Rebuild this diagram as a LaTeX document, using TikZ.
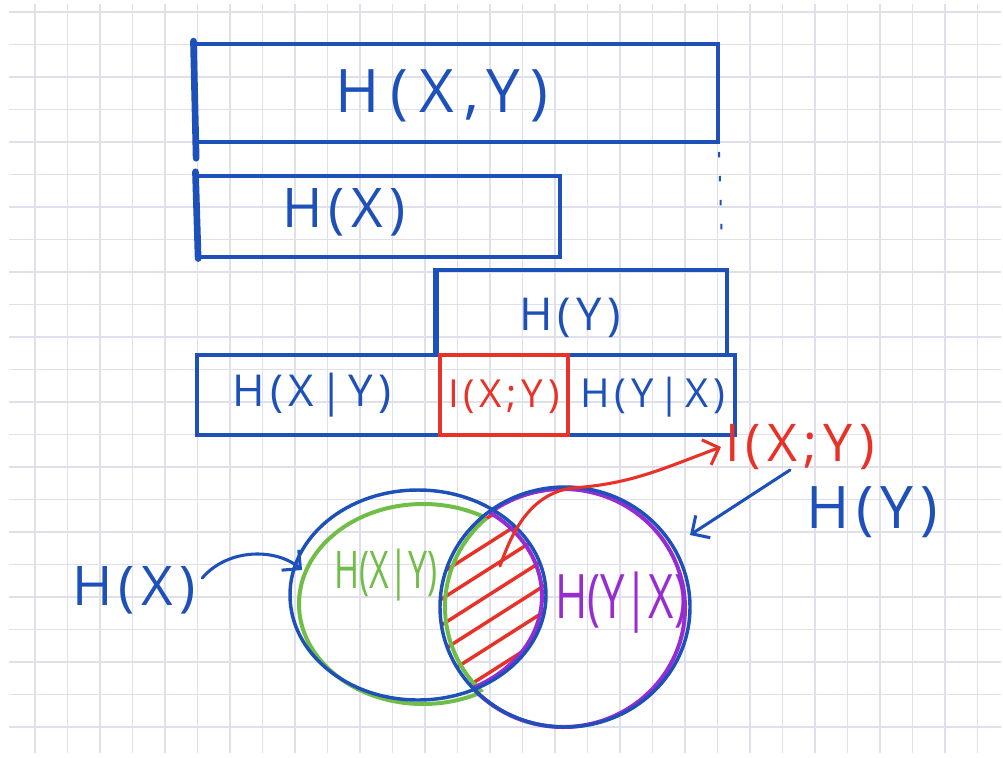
\documentclass[tikz,border=0pt]{standalone}
\usepackage{fontspec}
\setmainfont{Open Sans}
\newfontfamily\handls[LetterSpace=12]{Open Sans}
\newfontfamily\handwide[LetterSpace=18]{Open Sans}
\usetikzlibrary{arrows.meta}
\definecolor{hblue}{RGB}{30,80,185}
\definecolor{hred}{RGB}{232,50,40}
\definecolor{hgreen}{RGB}{112,190,72}
\definecolor{hpurple}{RGB}{150,45,210}
\definecolor{gridc}{RGB}{224,224,234}
\tikzset{
  box/.style={draw=hblue, line width=2.3pt, inner sep=0pt},
  redbox/.style={draw=hred, line width=3pt, inner sep=0pt},
  thickedge/.style={draw=hblue, line width=5pt, line cap=round},
  lbl/.style={inner sep=0pt, text=hblue},
  barb/.style={line width=2.3pt, line cap=round, -{Straight Barb[length=10pt,width=20pt,line width=2.3pt]}},
  ring/.style={line width=3pt},
  hatch/.style={draw=hred, line width=2.6pt, line cap=round}
}
\newcommand{\fs}[1]{\handls\fontsize{#1}{#1}\selectfont}
\newcommand{\fsw}[1]{\handwide\fontsize{#1}{#1}\selectfont}
\newcommand{\fsn}[1]{\fontsize{#1}{#1}\selectfont}
\begin{document}
\begin{tikzpicture}[x=0.75pt,y=-0.75pt]
\useasboundingbox (0,0) rectangle (1003,757);
\fill[white] (0,0) rectangle (1003,757);
% grid
\foreach \i in {0,...,29} \draw[gridc, line width=1.3pt] ({35+32.5*\i},4) -- ({35+32.5*\i},753);
\foreach \j in {0,...,22} \draw[gridc, line width=1.3pt] (9,{12+32.5*\j}) -- (1001,{12+32.5*\j});

% ---------- bar diagram ----------
\node[box, minimum width=392.25pt, minimum height=73.5pt] (bxy) at (456.5,93) {};
\draw[thickedge] ([yshift=1pt]bxy.north west) -- ([xshift=2pt,yshift=-11pt]bxy.south west);
\node[lbl, font=\fsw{45}] (txy) at (442,96) {H(X,Y)};

\node[box, minimum width=272.25pt, minimum height=60.75pt] (bx) at (378.5,216.5) {};
\draw[thickedge] ([yshift=2pt]bx.north west) -- ([xshift=2pt]bx.south west);
\node[lbl, font=\fs{41}] (tx) at (344,212) {H(X)};

\draw[hblue, line width=1.5pt, dash pattern=on 4pt off 14pt] (719,152) -- (722,245);

\node[box, minimum width=217.5pt, minimum height=63.75pt] (by) at (582,312.5) {};
\draw[hblue, line width=3.5pt] (by.north west) -- (by.south west);
\node[lbl, font=\fs{34}] (ty) at (570,318) {H(Y)};

\node[box, minimum width=403.5pt, minimum height=60pt] (brow) at (466,395) {};
\node[redbox, minimum width=96pt, minimum height=60pt] (bixy) at (504,395) {};
\node[lbl, font=\fs{33}] (txgy) at (312,395) {H(X|Y)};
\node[lbl, text=hred, font=\fs{29}] (tixy) at (504,397) {I(X;Y)};
\node[lbl, font=\fs{30}] (tygx) at (653,397) {H(Y|X)};

% ---------- Venn diagram ----------
% hatching in the lens
\begin{scope}
  \clip (418,595) ellipse [x radius=128, y radius=105];
  \clip (565,607) ellipse [x radius=125, y radius=120];
  \foreach \k in {0,...,10} \draw[hatch] (440,{522+26*\k}) -- ++(110,-70);
\end{scope}
% green crescent H(X|Y)
\begin{scope}[even odd rule]
  \clip (0,0) rectangle (1003,757) (565,607) ellipse [x radius=125, y radius=120];
  \draw[hgreen, ring] (423,604) ellipse [x radius=124, y radius=100];
\end{scope}
\begin{scope}
  \clip (423,604) ellipse [x radius=124, y radius=100];
  \draw[hgreen, ring] (566,607) ellipse [x radius=121, y radius=118];
\end{scope}
% purple crescent H(Y|X)
\begin{scope}[even odd rule]
  \clip (0,0) rectangle (1003,757) (418,595) ellipse [x radius=128, y radius=105];
  \draw[hpurple, ring] (563,608) ellipse [x radius=122, y radius=119];
\end{scope}
\begin{scope}
  \clip (563,608) ellipse [x radius=122, y radius=119];
  \draw[hpurple, ring] (416,596) ellipse [x radius=126, y radius=103];
\end{scope}
% blue circles
\draw[hblue, ring, line width=2.6pt] (418,595) ellipse [x radius=128, y radius=105];
\draw[hblue, ring, line width=2.6pt] (565,607) ellipse [x radius=125, y radius=120];

\node[lbl, text=hgreen, font=\fsn{30}] (vxgy) at (386,575) {\scalebox{0.85}[1.3]{H(X|Y)}};
\node[lbl, text=hpurple, font=\fsn{40}] (vygx) at (621,603) {\scalebox{0.82}[1.15]{H(Y|X)}};

% labels with arrows
\node[lbl, font=\fs{41}] (lhx) at (134,590) {H(X)};
\coordinate (hxin) at (302,570);
\draw[hblue, barb] (lhx.east) ++(6,-12) .. controls (228,548) and (276,548) .. (hxin);

\node[lbl, text=hred, font=\fs{39}] (lixy) at (800,447) {I(X;Y)};
\coordinate (lensin) at (500,566);
\draw[hred, barb] (lensin) .. controls (512,532) and (530,494) .. (572,488) .. controls (632,484) and (664,468) .. ([xshift=-3pt]lixy.west);

\node[lbl, font=\fs{44}] (lhy) at (872,512) {H(Y)};
\coordinate (rtop) at (690,535);
\coordinate (hyfrom) at (790,470);
\draw[hblue, barb] (hyfrom) -- (rtop);
\end{tikzpicture}
\end{document}
